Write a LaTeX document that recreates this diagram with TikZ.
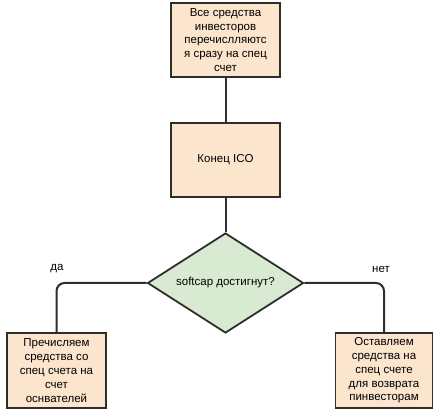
\documentclass[tikz,border=0pt]{standalone}
\usepackage{fontspec}
\setmainfont{Liberation Sans}
\usetikzlibrary{shapes.geometric}
\definecolor{peach}{HTML}{FCE5CD}
\definecolor{sage}{HTML}{D9EAD3}
\definecolor{edgegray}{HTML}{2E2E2E}
\begin{document}
\begin{tikzpicture}[x=1pt,y=-1pt,
  every node/.style={font=\fontsize{11.5}{13.8}\selectfont},
  procbox/.style={draw=edgegray,line width=1.8pt,fill=peach,align=center,inner sep=0pt,minimum height=74pt},
  decision/.style={draw=edgegray,line width=1.8pt,fill=sage,shape=diamond,aspect=1.56,inner sep=0pt,minimum width=156pt,minimum height=100pt},
  link/.style={draw=edgegray,line width=2pt,rounded corners=8pt},
  lbl/.style={inner sep=1pt}]
\useasboundingbox (0,0) rectangle (436,411);
\node[procbox,minimum width=109pt] (top) at (225.5,40) {Все средства\\инвесторов\\перечислляютс\\я сразу на спец\\счет};
\node[procbox,minimum width=109pt] (ico) at (225.5,160) {Конец ICO};
\node[decision] (dec) at (225.5,283) {softcap достигнут?};
\node[procbox,minimum width=99pt,minimum height=75pt] (yes) at (56.5,370.5) {Пречисляем\\средства со\\спец счета на\\счет\\оснвателей};
\node[procbox,minimum width=97pt,minimum height=75pt] (no) at (384,370.5) {Оставляем\\средства на\\спец счете\\для возврата\\пинвесторам};
\draw[link] (top) -- (ico);
\draw[link] (ico) -- (dec);
\draw[link] (dec.west) -| (yes.north);
\draw[link] (dec.east) -| (no.north);
\node[lbl] (da) at (57,269) {да};
\node[lbl] (net) at (381,269) {нет};
\end{tikzpicture}
\end{document}
